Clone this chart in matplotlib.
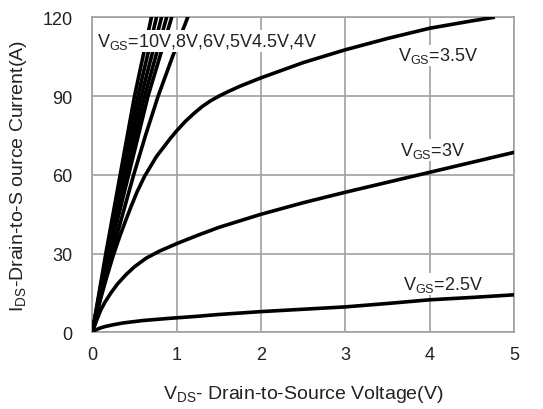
import matplotlib
matplotlib.use("Agg")
import matplotlib.pyplot as plt

plt.rcParams['font.family'] = ['Liberation Sans', 'DejaVu Sans']
plt.rcParams['mathtext.fontset'] = 'custom'
plt.rcParams['mathtext.rm'] = 'Liberation Sans'

# steep curves, read at Ids = 0, 15, 30, ... 120 A
steep_ids = [0, 15, 30, 45, 60, 75, 90, 105, 120]
vds_10v = [0, 0.08, 0.16, 0.245, 0.33, 0.415, 0.50, 0.60, 0.70]
vds_8v = [0, 0.085, 0.17, 0.26, 0.35, 0.445, 0.54, 0.65, 0.76]
vds_6v = [0, 0.09, 0.18, 0.275, 0.37, 0.475, 0.58, 0.70, 0.82]
vds_5v = [0, 0.095, 0.19, 0.295, 0.40, 0.51, 0.62, 0.75, 0.88]
vds_4v5 = [0, 0.10, 0.20, 0.315, 0.43, 0.545, 0.66, 0.80, 0.94]
vds_4v = [0, 0.11, 0.23, 0.36, 0.49, 0.63, 0.78, 0.95, 1.13]

vds_3v5 = [0, 0.05, 0.1, 0.17, 0.25, 0.33, 0.4, 0.46, 0.53, 0.62, 0.76, 0.92, 1.0, 1.1,
           1.2, 1.3, 1.4, 1.5, 1.6, 1.75, 2.0, 2.5, 3.0, 3.5, 4.0, 4.5, 4.75]
ids_3v5 = [0, 6.5, 13, 21, 29.5, 37, 43, 48, 53.5, 59.5, 67, 73.7, 76.8, 80.3,
           83.3, 86, 88.2, 90, 91.6, 93.8, 97, 102.8, 107.7, 112, 115.9, 118.7, 120]

vds_3v = [0, 0.05, 0.1, 0.15, 0.22, 0.3, 0.4, 0.5, 0.64, 0.8, 1.0, 1.25, 1.5, 2.0,
          2.5, 3.0, 3.5, 4.0, 4.5, 5.0]
ids_3v = [0, 4.5, 8.5, 11.5, 15, 18.5, 22, 25, 28.3, 31, 33.8, 37, 40, 45,
          49.4, 53.4, 57.2, 61, 64.8, 68.6]

vds_2v5 = [0, 0.04, 0.09, 0.15, 0.25, 0.37, 0.6, 0.9, 1.2, 1.5, 2.0, 2.5, 3.0,
           3.5, 4.0, 4.5, 5.0]
ids_2v5 = [0, 0.9, 1.6, 2.2, 2.9, 3.6, 4.5, 5.3, 6.0, 6.8, 7.9, 8.8, 9.7,
           11.0, 12.4, 13.3, 14.3]

fig = plt.figure(figsize=(5.43, 4.10), dpi=100)
ax = fig.add_axes([0.170, 0.187, 0.777, 0.768])

lw = 2.6
for v in [vds_10v, vds_8v, vds_6v, vds_5v, vds_4v5, vds_4v]:
    ax.plot(v, steep_ids, color='black', lw=lw, zorder=3)
ax.plot(vds_3v5, ids_3v5, color='black', lw=lw, zorder=3)
ax.plot(vds_3v, ids_3v, color='black', lw=lw, zorder=3)
ax.plot(vds_2v5, ids_2v5, color='black', lw=lw, zorder=3)

ax.set_xlim(0, 5)
ax.set_ylim(0, 120)
ax.set_xticks([0, 1, 2, 3, 4, 5])
ax.set_yticks([0, 30, 60, 90, 120])
ax.grid(True, color='#a0a0a0', lw=1.2, zorder=0)
ax.set_axisbelow(True)
for s in ax.spines.values():
    s.set_color('#a0a0a0')
    s.set_linewidth(1.2)
ax.tick_params(length=0, labelsize=13, pad=10, colors='#222222')
ax.tick_params(axis='y', pad=14)

box = dict(facecolor='white', edgecolor='none', pad=0.5)
ax.text(0.05, 111, r'$\mathregular{V_{GS}}$=10V,8V,6V,5V4.5V,4V', fontsize=13,
        va='center', ha='left', color='#222222', bbox=box, zorder=4)
ax.text(3.62, 105.5, r'$\mathregular{V_{GS}}$=3.5V', fontsize=13,
        va='center', ha='left', color='#222222', bbox=box, zorder=4)
ax.text(3.65, 69.5, r'$\mathregular{V_{GS}}$=3V', fontsize=13,
        va='center', ha='left', color='#222222', bbox=box, zorder=4)
ax.text(3.68, 18.5, r'$\mathregular{V_{GS}}$=2.5V', fontsize=13,
        va='center', ha='left', color='#222222', bbox=box, zorder=4)

ax.set_xlabel(r'$\mathregular{V_{DS}}$- Drain-to-Source Voltage(V)', fontsize=14,
              color='#222222', labelpad=14)
ax.set_ylabel(r'$\mathregular{I_{DS}}$-Drain-to-S ource Current(A)', fontsize=14,
              color='#222222', labelpad=10)

fig.savefig('out.png', dpi=100)
